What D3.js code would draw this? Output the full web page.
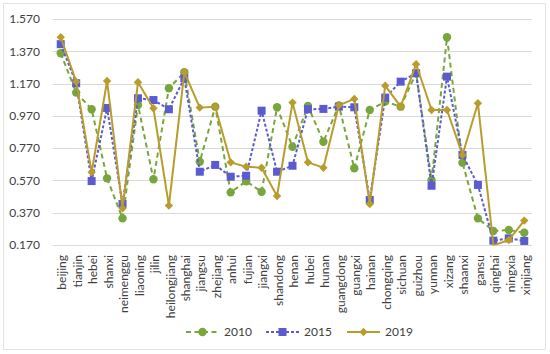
<!DOCTYPE html>
<html><head><meta charset="utf-8">
<script src="https://cdn.jsdelivr.net/npm/d3@7"></script>
<style>
html,body{margin:0;padding:0;background:#fff;}
svg{display:block;font-family:Lato,"Open Sans",sans-serif;}
</style></head>
<body>
<svg id="chart" width="550" height="354"></svg>
<script>
const categories = ["beijing","tianjin","hebei","shanxi","neimenggu","liaoning","jilin","heilongjiang","shanghai","jiangsu","zhejiang","anhui","fujian","jiangxi","shandong","henan","hubei","hunan","guangdong","guangxi","hainan","chongqing","sichuan","guizhou","yunnan","xizang","shaanxi","gansu","qinghai","ningxia","xinjiang"];
const v2010 = [1.358,1.114,1.011,0.583,0.335,1.037,0.577,1.141,1.240,0.686,1.027,0.496,0.565,0.500,1.023,0.779,1.031,0.810,1.035,0.645,1.006,1.058,1.027,1.234,0.573,1.457,0.680,0.335,0.257,0.263,0.246];
const v2015 = [1.414,1.172,0.566,1.019,0.424,1.079,1.068,1.011,1.203,0.624,0.666,0.593,0.599,1.002,0.624,0.661,1.011,1.013,1.027,1.023,0.449,1.083,1.182,1.234,0.537,1.213,0.728,0.542,0.197,0.211,0.195];
const v2019 = [1.457,1.182,0.620,1.186,0.397,1.178,1.017,0.414,1.240,1.021,1.027,0.682,0.655,0.649,0.474,1.052,0.682,0.649,1.035,1.075,0.424,1.157,1.027,1.290,1.006,1.006,0.728,1.048,0.168,0.201,0.321];
const yTicks = [0.170,0.370,0.570,0.770,0.970,1.170,1.370,1.570];
const seriesNames = ["2010","2015","2019"];

const series = [
  {name: seriesNames[0], values: v2010, color: "#78a63d", dash: "5,3.5", marker: "circle"},
  {name: seriesNames[1], values: v2015, color: "#5b5bd0", dash: "3,2", marker: "square"},
  {name: seriesNames[2], values: v2019, color: "#b89c2c", dash: null, marker: "diamond"}
];

const svg = d3.select("#chart");
svg.append("rect").attr("x",3.5).attr("y",3.5).attr("width",542).attr("height",346)
  .attr("fill","#fff").attr("stroke","#e3e3e3").attr("stroke-width",1);

const x = d3.scaleBand().domain(categories).range([53,532]);
const y = d3.scaleLinear().domain([0.17,1.57]).range([245,19]);

svg.append("g").selectAll("line").data(yTicks).join("line")
  .attr("x1",53).attr("x2",532)
  .attr("y1",d=>Math.round(y(d))+0.5).attr("y2",d=>Math.round(y(d))+0.5)
  .attr("stroke","#d9d9d9").attr("stroke-width",1);

const yAxis = d3.axisLeft(y).tickValues(yTicks).tickFormat(d3.format(".3f")).tickSize(0).tickPadding(0);
const gy = svg.append("g").attr("transform","translate(40,0)").call(yAxis);
gy.select(".domain").remove();
gy.selectAll("text").attr("font-size","12px").attr("fill","#404040").attr("font-family","Lato,'Open Sans',sans-serif");

const xAxis = d3.axisBottom(x).tickSize(0).tickPadding(0);
const gx = svg.append("g").attr("transform","translate(1.5,245)").call(xAxis);
gx.select(".domain").remove();
gx.selectAll("text")
  .attr("font-size","12px").attr("fill","#404040").attr("font-family","Lato,'Open Sans',sans-serif")
  .attr("text-anchor","end").attr("dy","0.35em")
  .attr("transform","translate(0,10) rotate(-90)")
  .attr("x",0).attr("y",0);

function drawMarker(g, type, cx, cy, color) {
  if (type === "circle") {
    g.append("circle").attr("cx",cx).attr("cy",cy).attr("r",4.2).attr("fill",color);
  } else if (type === "square") {
    g.append("rect").attr("x",cx-4).attr("y",cy-4).attr("width",8).attr("height",8).attr("fill",color);
  } else {
    const s = 4.2;
    g.append("path").attr("d",`M${cx},${cy-s}L${cx+s},${cy}L${cx},${cy+s}L${cx-s},${cy}Z`).attr("fill",color);
  }
}

const line = d3.line().x((d,i)=>x(categories[i])+x.bandwidth()/2).y(d=>y(d));
svg.append("clipPath").attr("id","clip").append("rect").attr("x",0).attr("y",10).attr("width",550).attr("height",235.5);

series.forEach(s => {
  const g = svg.append("g").attr("clip-path","url(#clip)");
  g.append("path").datum(s.values).attr("d",line)
    .attr("fill","none").attr("stroke",s.color).attr("stroke-width",2)
    .attr("stroke-dasharray",s.dash).attr("stroke-linejoin","round");
  s.values.forEach((v,i) => {
    if (v >= 0.17) drawMarker(g, s.marker, x(categories[i])+x.bandwidth()/2, y(v), s.color);
  });
});

const legendX = [186, 266, 347];
series.forEach((s,i) => {
  const lx = legendX[i], ly = 332;
  const lg = svg.append("g");
  lg.append("line").attr("x1",lx).attr("x2",lx+33).attr("y1",ly).attr("y2",ly)
    .attr("stroke",s.color).attr("stroke-width",2).attr("stroke-dasharray",s.dash);
  drawMarker(lg, s.marker, lx+16.5, ly, s.color);
  lg.append("text").attr("x",lx+38).attr("y",ly).attr("dy","0.35em")
    .attr("font-size","12px").attr("fill","#404040").text(s.name);
});
</script>
</body></html>
